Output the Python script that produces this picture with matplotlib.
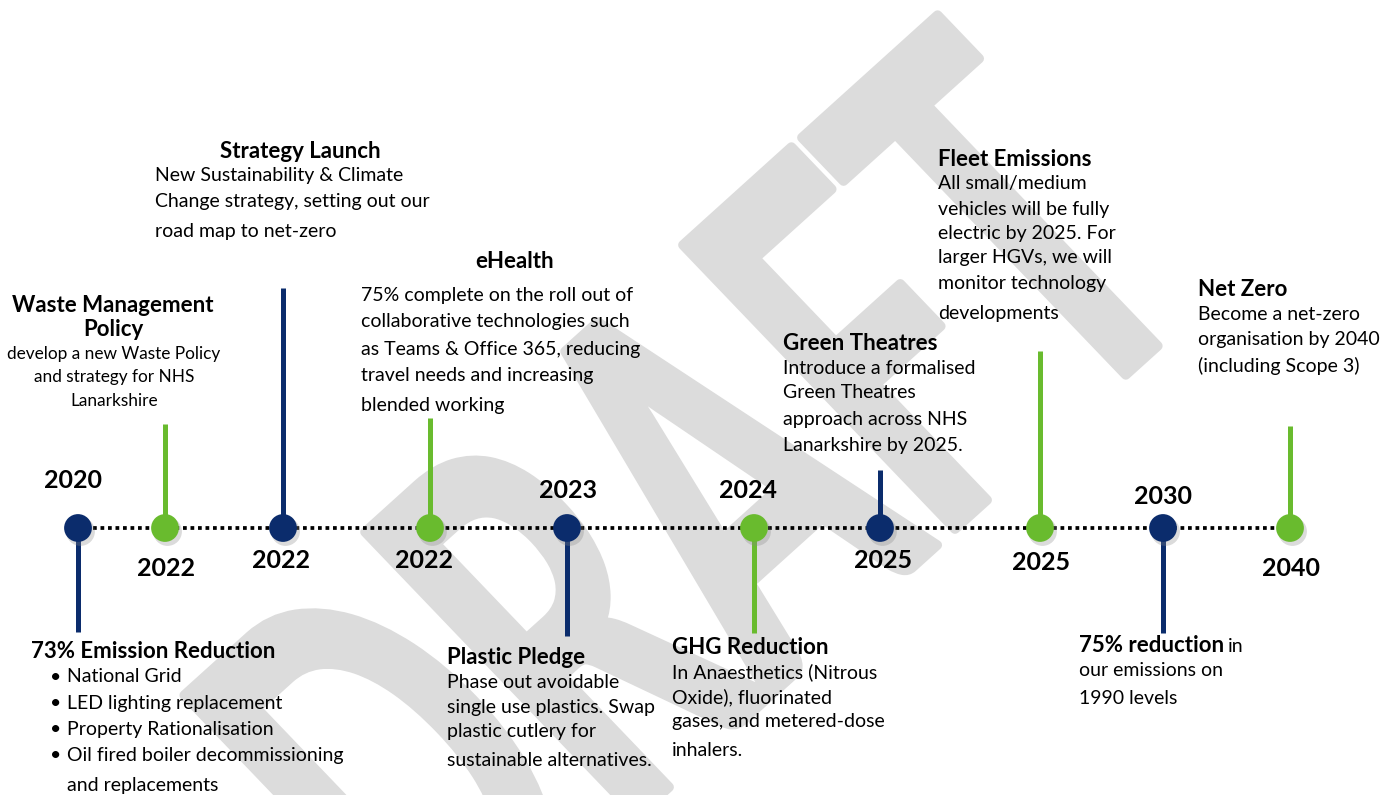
import matplotlib
matplotlib.use("Agg")
import matplotlib.pyplot as plt
import numpy as np
from matplotlib.textpath import TextPath
from matplotlib.patches import PathPatch
from matplotlib.font_manager import FontProperties
from matplotlib.transforms import Affine2D

# ---------------- data ----------------
years = ["2020", "2022", "2022", "2022", "2023", "2024", "2025", "2025", "2030", "2040"]
kinds = ["navy", "green", "navy", "green", "navy", "green", "navy", "green", "navy", "green"]
stem_side = ["down", "up", "up", "up", "down", "down", "up", "up", "down", "up"]

titles = ["73% Emission Reduction", "Waste Management\nPolicy", "Strategy Launch", "eHealth",
          "Plastic Pledge", "GHG Reduction", "Green Theatres", "Fleet Emissions",
          "75% reduction", "Net Zero"]
bodies = [
    ["National Grid", "LED lighting replacement", "Property Rationalisation",
     "Oil fired boiler decommissioning", "and replacements"],
    ["develop a new Waste Policy", "and strategy for NHS", "Lanarkshire"],
    ["New Sustainability & Climate", "Change strategy, setting out our", "road map to net-zero"],
    ["75% complete on the roll out of", "collaborative technologies such",
     "as Teams & Office 365, reducing", "travel needs and increasing", "blended working"],
    ["Phase out avoidable", "single use plastics. Swap", "plastic cutlery for",
     "sustainable alternatives."],
    ["In Anaesthetics (Nitrous", "Oxide), fluorinated", "gases, and metered-dose", "inhalers."],
    ["Introduce a formalised", "Green Theatres", "approach across NHS", "Lanarkshire by 2025."],
    ["All small/medium", "vehicles will be fully", "electric by 2025. For",
     "larger HGVs, we will", "monitor technology", "developments"],
    ["our emissions on", "1990 levels"],
    ["Become a net-zero", "organisation by 2040", "(including Scope 3)"],
]
watermark = "DRAFT"

# ---------------- layout (pixel space) ----------------
W, H = 1393, 795
LINE_Y = 528
node_x = [78, 165, 283, 430, 567, 754, 880, 1040, 1163, 1290]
stem_end = [632, 424, 288, 418, 636, 633, 470, 351, 633, 426]
year_xy = [(73, 481), (166, 569), (281, 561), (424, 561), (568, 491),
           (748, 490), (883, 561), (1041, 563), (1163, 497), (1291, 569)]
COL = {"navy": "#0b2c6c", "green": "#69bb2e"}

FONT = ["Lato", "DejaVu Sans"]
plt.rcParams["font.family"] = FONT

fig = plt.figure(figsize=(13.93, 7.95), dpi=100)
ax = fig.add_axes([0, 0, 1, 1])
ax.set_xlim(0, W)
ax.set_ylim(H, 0)
ax.axis("off")

# ---------------- watermark ----------------
fp = FontProperties(family="Lato", weight="bold")
full = TextPath((0, 0), watermark, size=1, prop=fp)
v = full.vertices
def ext(s):
    return TextPath((0, 0), s, size=1, prop=fp).get_extents()
a_right = ext(watermark[:3]).x1
f_right = ext(watermark[:4]).x1
f_left = v[v[:, 0] > a_right + 1e-3][:, 0].min()
tv = v[v[:, 0] > f_right + 1e-3]
t_cx = (tv[:, 0].min() + tv[:, 0].max()) / 2
cap = tv[:, 1].max()
P1 = np.array([1140.0, 362.0])   # T stem foot
P2 = np.array([868.0, 78.0])     # T stem top
P3 = np.array([683.0, 245.0])    # F top-left corner
hv = (P2 - P1) / cap
bv = (P2 - P3) / (t_cx - f_left)
O = P1 - t_cx * bv
M = Affine2D(np.array([[bv[0], hv[0], O[0]], [bv[1], hv[1], O[1]], [0, 0, 1]]))
ax.add_patch(PathPatch(M.transform_path(full), facecolor="#dcdcdc", edgecolor="#dcdcdc",
                       lw=7, joinstyle="round", zorder=0))

# ---------------- timeline ----------------
ax.plot([node_x[0], node_x[-1]], [LINE_Y, LINE_Y], color="black", lw=2.7,
        linestyle=(0, (1, 1)), dash_capstyle="butt", zorder=2)
for x, k, e in zip(node_x, kinds, stem_end):
    ax.plot([x, x], [LINE_Y, e], color=COL[k], lw=3.6, solid_capstyle="butt", zorder=3)
xs = np.array(node_x)
ax.scatter(xs + 2, np.full(len(xs), LINE_Y + 3), s=430, color="#888888", alpha=0.3,
           linewidths=0, zorder=4)
ax.scatter(xs, np.full(len(xs), LINE_Y), s=400, c=[COL[k] for k in kinds],
           linewidths=0, zorder=5)
for (x, y), yr in zip(year_xy, years):
    ax.text(x, y, yr, ha="center", va="center", fontsize=18, fontweight="bold", zorder=6)

BODY = 14
TITLE = 16

def block(title, lines, x, ty, ys, tx=None):
    ax.text(tx if tx is not None else x, ty, title, ha="left" if tx is None else "center",
            va="center", fontsize=TITLE, fontweight="bold", zorder=6)
    for ln, y in zip(lines, ys):
        ax.text(x, y, ln, ha="left", va="center", fontsize=BODY, zorder=6)

# Waste management
wt = titles[1].split("\n")
ax.text(113, 305, wt[0], ha="center", va="center", fontsize=TITLE, fontweight="bold")
ax.text(113, 330, wt[1], ha="center", va="center", fontsize=TITLE, fontweight="bold")
for ln, y in zip(bodies[1], [354, 377, 401]):
    ax.text(114, y, ln, ha="center", va="center", fontsize=12.4)

block(titles[2], bodies[2], 155, 151, [176, 202, 231], tx=300)
block(titles[3], bodies[3], 361, 262, [295, 322, 349, 376, 405], tx=515)
block(titles[7], bodies[7], 938, 159, [184, 209, 233, 258, 284, 313])
block(titles[6], bodies[6], 783, 343, [368, 393, 419, 446])
block(titles[9], bodies[9], 1198, 290, [314, 339, 366])
block(titles[4], bodies[4], 447, 657, [682, 707, 732, 760])
block(titles[5], bodies[5], 672, 647, [672, 697, 722, 750])

# emission reduction with bullets
ax.text(31, 651, titles[0], ha="left", va="center", fontsize=TITLE, fontweight="bold")
for i, (ln, y) in enumerate(zip(bodies[0], [677, 703, 730, 756, 786])):
    if i < 4:
        ax.text(56, y, "\u2022", ha="center", va="center", fontsize=BODY)
    ax.text(67, y, ln, ha="left", va="center", fontsize=BODY)

# 75% reduction
t = ax.text(1079, 646, titles[8], ha="left", va="center", fontsize=TITLE, fontweight="bold")
fig.canvas.draw()
bb = t.get_window_extent().transformed(ax.transData.inverted())
ax.text(bb.x1 + 4, 646, "in", ha="left", va="center", fontsize=BODY)
for ln, y in zip(bodies[8], [671, 699]):
    ax.text(1079, y, ln, ha="left", va="center", fontsize=BODY)

fig.savefig("out.png", dpi=100, facecolor="white")
